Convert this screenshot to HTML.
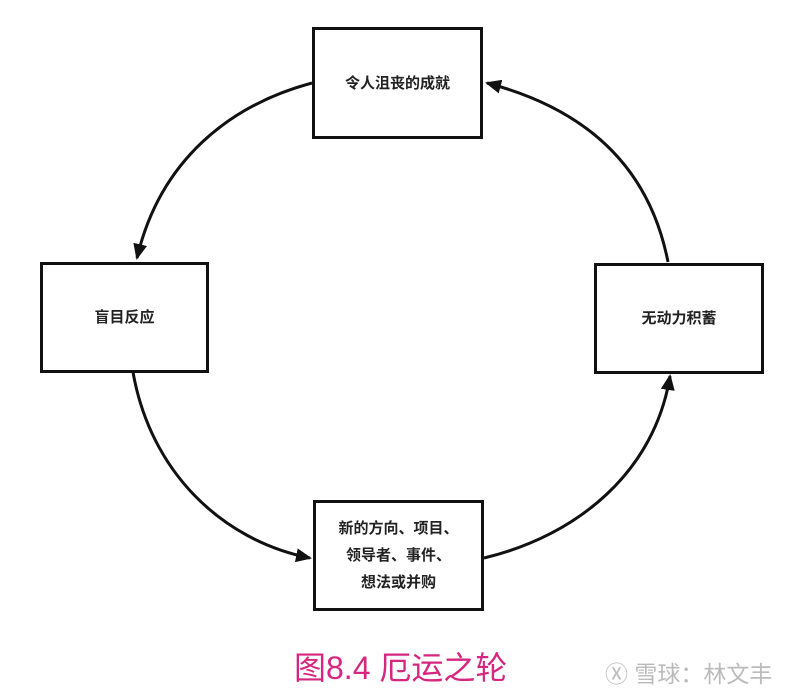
<!DOCTYPE html>
<html><head><meta charset="utf-8"><style>
body{margin:0;background:#fff;width:800px;height:695px;overflow:hidden;font-family:"Liberation Sans","Noto Sans CJK SC",sans-serif}
.b{position:absolute;border:3px solid #111;box-sizing:border-box;background:#fff;display:flex;align-items:center;justify-content:center;text-align:center;font-size:15px;color:#222;line-height:27px;font-weight:bold}
</style></head><body>
<svg width="800" height="695" style="position:absolute;left:0;top:0">
<defs><marker id="a" markerWidth="16" markerHeight="14" refX="14" refY="7" orient="auto" markerUnits="userSpaceOnUse"><path d="M0,0 L16,7 L0,14 Z" fill="#111"/></marker></defs>
<g fill="none" stroke="#111" stroke-width="3">
<path d="M312,83 C230,105 160,160 137,258" marker-end="url(#a)"/>
<path d="M133,372 C150,470 220,540 310,558" marker-end="url(#a)"/>
<path d="M484,558 C580,535 655,470 670,376" marker-end="url(#a)"/>
<path d="M668,262 C650,170 590,110 487,83" marker-end="url(#a)"/>
</g></svg>
<div class="b" style="left:312px;top:27px;width:171px;height:112px">令人沮丧的成就</div>
<div class="b" style="left:40px;top:262px;width:169px;height:111px">盲目反应</div>
<div class="b" style="left:594px;top:263px;width:170px;height:111px">无动力积蓄</div>
<div class="b" style="left:313px;top:500px;width:171px;height:111px">新的方向、项目、<br>领导者、事件、<br>想法或并购</div>
<div style="position:absolute;left:294px;top:643px;font-size:32px;color:#d6267f">图8.4 厄运之轮</div>
<div style="position:absolute;left:605px;top:655px;font-size:23px;color:#bbb">Ⓧ 雪球：林文丰</div>
</body></html>
